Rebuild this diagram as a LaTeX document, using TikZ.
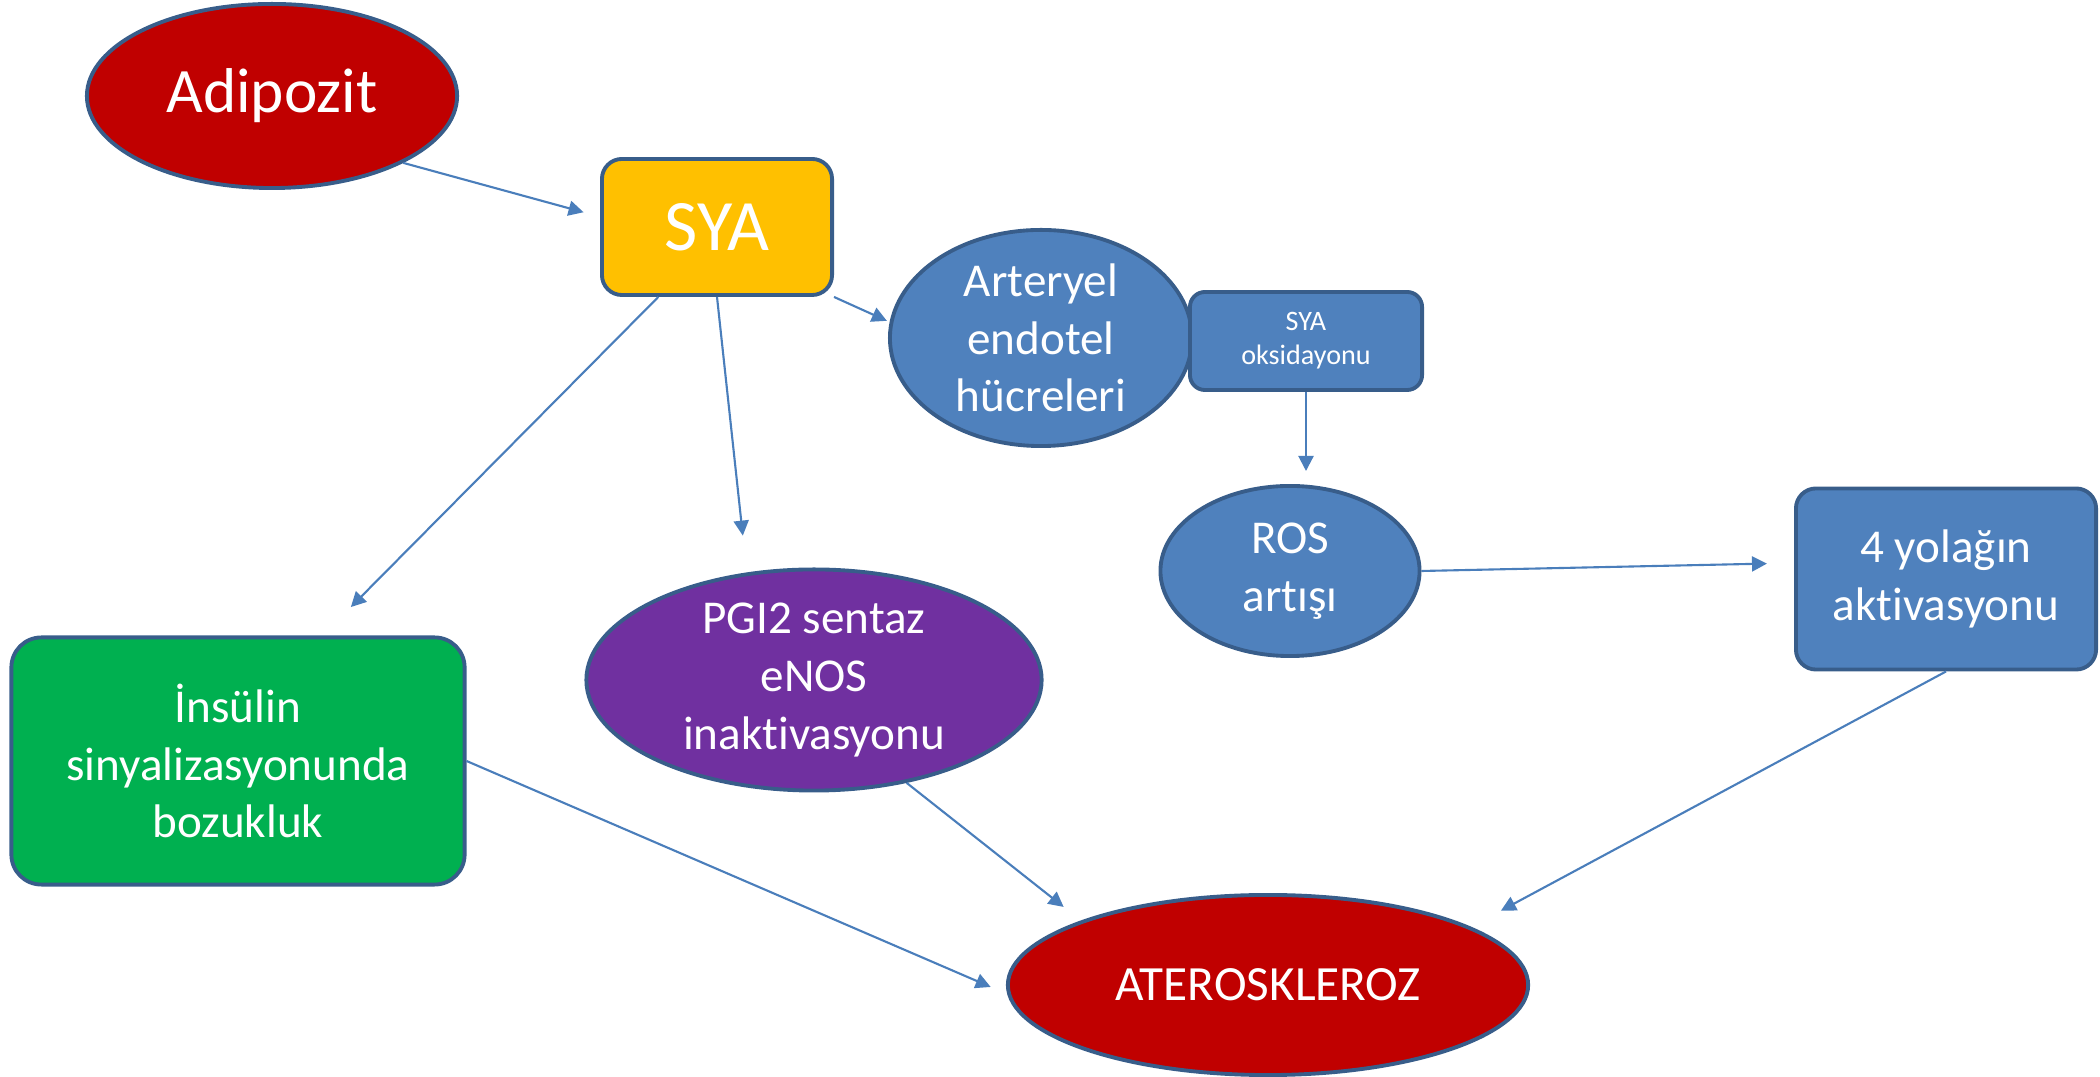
\documentclass[tikz,border=0pt]{standalone}
\usepackage{fontspec}
\setmainfont{Carlito}[Ligatures=NoCommon]
\usetikzlibrary{shapes.geometric,arrows.meta}

\definecolor{darkred}{HTML}{C00000}
\definecolor{amber}{HTML}{FFC000}
\definecolor{steel}{HTML}{4F81BD}
\definecolor{leaf}{HTML}{00B050}
\definecolor{plum}{HTML}{7030A0}
\definecolor{rim}{HTML}{385D8A}
\definecolor{wire}{HTML}{4A7EBB}

\begin{document}
\begin{tikzpicture}[x=0.01cm,y=-0.01cm]
    \tikzset{
    oval/.style={ellipse,draw=rim,line width=1.1pt,inner sep=0pt,text=white,align=center},
    card/.style={rectangle,rounded corners=0.2cm,draw=rim,line width=1.1pt,inner sep=0pt,text=white,align=center},
    txt/.style={font=\fontsize{13.4pt}{16.4pt}\selectfont},
    arr/.style={-{Triangle[length=0.15cm,width=0.15cm]},wire,line width=0.6pt},
    }
    \useasboundingbox (0,0) rectangle (2100,1077);

    \node[oval,fill=darkred,minimum width=3.7cm,minimum height=1.84cm,font=\fontsize{18pt}{22pt}\selectfont] (adip) at (272,96) {Adipozit};
    \node[card,fill=amber,minimum width=2.3cm,minimum height=1.36cm,font=\fontsize{20.6pt}{25pt}\selectfont] (sya) at (717,227) {SYA};
    \node[oval,fill=steel,minimum width=3.02cm,minimum height=2.16cm,txt] (art) at (1041,338) {Arteryel\\endotel\\hücreleri};
    \node[card,fill=steel,rounded corners=0.15cm,minimum width=2.32cm,minimum height=0.98cm,font=\fontsize{8pt}{9.7pt}\selectfont] (oks) at (1306,341) {SYA\\oksidayonu};
    \node[oval,fill=steel,minimum width=2.59cm,minimum height=1.7cm,txt] (ros) at (1290,571) {ROS\\artışı};
    \node[card,fill=steel,minimum width=3.0cm,minimum height=1.81cm,txt] (yol) at (1946,579) {4 yolağın\\aktivasyonu};
    \node[card,fill=leaf,rounded corners=0.3cm,minimum width=4.53cm,minimum height=2.47cm,txt] (ins) at (238,761) {İnsülin\\sinyalizasyonunda\\bozukluk};
    \node[oval,fill=plum,minimum width=4.55cm,minimum height=2.21cm,txt] (pgi) at (814,680) {PGI2 sentaz\\eNOS\\inaktivasyonu};
    \node[oval,fill=darkred,minimum width=5.2cm,minimum height=1.8cm,font=\fontsize{14pt}{17pt}\selectfont] (ater) at (1268,985) {ATEROSKLEROZ};

    \draw[arr,shorten >=0.17cm] (adip.-27) -- (sya.175);
    \draw[arr,shorten >=0.03cm] (sya.south east) -- (art.174);
    \draw[arr,shorten >=0.4cm] (sya.230) -- (ins.56);
    \draw[arr,shorten >=0.37cm] (sya.south) -- (pgi.122);
    \draw[arr,shorten >=0.13cm] (oks.south) -- (oks.south |- ros.north);
    \draw[arr,shorten >=0.27cm] (ros.east) -- (yol.174);
    \draw[arr,shorten >=0.18cm] (ins.east) -- (ater.182);
    \draw[arr,shorten >=0.22cm] (pgi.-48) -- (ater.161);
    \draw[arr,shorten >=0.34cm] (yol.south) -- (ater.16);
\end{tikzpicture}
\end{document}
